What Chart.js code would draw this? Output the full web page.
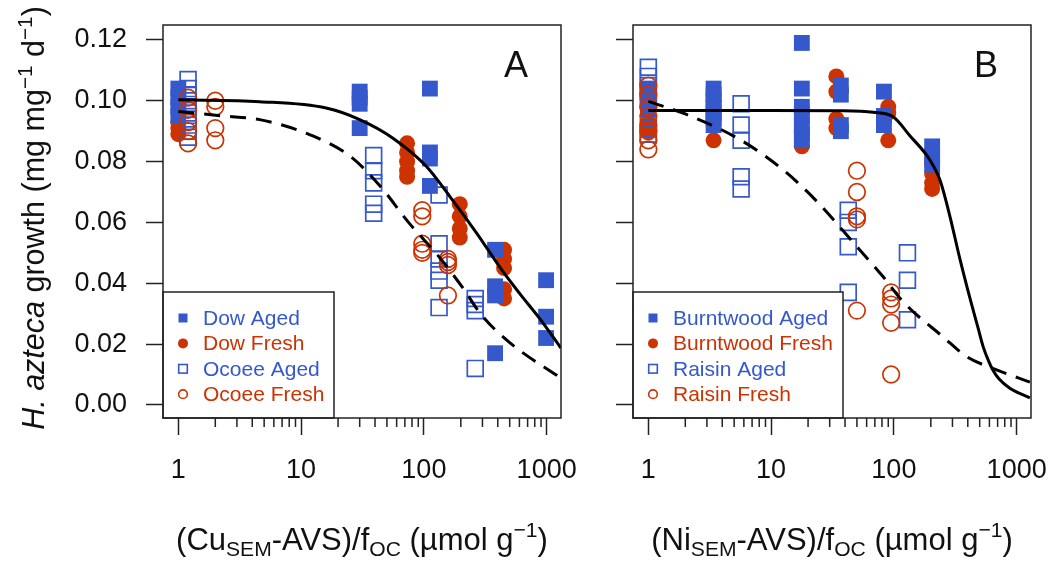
<!DOCTYPE html>
<html>
<head>
<meta charset="utf-8">
<script src="https://cdn.jsdelivr.net/npm/chart.js@4.4.1/dist/chart.umd.min.js"></script>
<style>
body { margin: 0; background: #fff; }
#wrap { position: relative; width: 1053px; height: 563px; overflow: hidden; font-family: "Liberation Sans", Arial, sans-serif; color: #111; }
canvas { position: absolute; top: 0; }
.xt { position: absolute; top: 522px; width: 560px; margin-left: -280px; text-align: center; font-size: 31px; line-height: 36px; white-space: nowrap; }
.yt { position: absolute; left: 33px; top: 218px; width: 580px; height: 36px; line-height: 36px; margin-left: -290px; margin-top: -18px; text-align: center; font-size: 30.5px; transform: rotate(-90deg); white-space: nowrap; }
sub { font-size: 0.68em; vertical-align: -0.3em; line-height: 0; }
sup { font-size: 0.68em; vertical-align: 0.6em; line-height: 0; }
</style>
</head>
<body>
<div id="wrap">
  <canvas id="chartA" width="590" height="563" style="left:0"></canvas>
  <canvas id="chartB" width="463" height="563" style="left:590px"></canvas>
  <div class="yt"><i>H. azteca</i> growth (mg mg<sup>−1</sup> d<sup>−1</sup>)</div>
  <div class="xt" style="left:362px">(Cu<sub>SEM</sub>-AVS)/f<sub>OC</sub> (µmol g<sup>−1</sup>)</div>
  <div class="xt" style="left:832px">(Ni<sub>SEM</sub>-AVS)/f<sub>OC</sub> (µmol g<sup>−1</sup>)</div>
</div>
<script>
const blue = '#3558CC';
const red = '#CC3300';

const yTicks = [0, 0.02, 0.04, 0.06, 0.08, 0.10, 0.12];
const xTicks = [1, 10, 100, 1000];

// panel A (Cu)
const dowAgedX = [1, 30, 112, 380, 990];
const dowAgedY = [[0.104, 0.101, 0.098, 0.095], [0.103, 0.101, 0.099, 0.091], [0.104, 0.083, 0.081, 0.072], [0.051, 0.039, 0.036, 0.017], [0.041, 0.029, 0.022]];
const dowFreshX = [1, 73, 196, 450];
const dowFreshY = [[0.093, 0.091, 0.089], [0.086, 0.083, 0.080, 0.077, 0.075], [0.066, 0.062, 0.058, 0.055], [0.051, 0.048, 0.045, 0.038, 0.035]];
const ocoeeAgedX = [1.2, 39, 133, 262];
const ocoeeAgedY = [[0.107, 0.104, 0.102, 0.100, 0.098, 0.096, 0.094, 0.092, 0.090, 0.088], [0.082, 0.077, 0.073, 0.066, 0.063], [0.069, 0.053, 0.048, 0.044, 0.041, 0.032], [0.035, 0.033, 0.031, 0.012]];
const ocoeeFreshX = [1.2, 2.0, 97, 157];
const ocoeeFreshY = [[0.101, 0.097, 0.093, 0.090, 0.086], [0.100, 0.098, 0.091, 0.087], [0.064, 0.062, 0.053, 0.051, 0.050], [0.048, 0.047, 0.046, 0.036]];
const fitAgedCuX = [1, 4.6, 16, 30, 56, 105, 163, 269, 443, 606, 882, 1307];
const fitAgedCuY = [0.1003, 0.0997, 0.0976, 0.0938, 0.0877, 0.0784, 0.0685, 0.0565, 0.0437, 0.0365, 0.0283, 0.0187];
const fitFreshCuX = [1, 2.32, 4.6, 11.8, 25.2, 44.3, 75, 131, 210, 289, 503, 1307];
const fitFreshCuY = [0.0965, 0.095, 0.0938, 0.0888, 0.0817, 0.0718, 0.060, 0.049, 0.0382, 0.030, 0.0204, 0.0088];

// panel B (Ni)
const burntAgedX = [1, 3.4, 17.8, 37, 83, 205];
const burntAgedY = [[0.104, 0.101, 0.099, 0.097], [0.104, 0.102, 0.100, 0.098, 0.096, 0.094, 0.092], [0.119, 0.104, 0.098, 0.095, 0.092, 0.089, 0.087], [0.105, 0.102, 0.092, 0.090], [0.103, 0.095, 0.092], [0.085, 0.082, 0.079]];
const burntFreshX = [1, 3.4, 17.8, 34, 90, 205];
const burntFreshY = [[0.100, 0.097, 0.093, 0.090], [0.095, 0.087], [0.098, 0.096, 0.090, 0.085], [0.108, 0.103, 0.094, 0.091], [0.098, 0.096, 0.087], [0.079, 0.076, 0.073, 0.071]];
const raisinAgedX = [1, 5.7, 42.5, 129];
const raisinAgedY = [[0.111, 0.108, 0.105, 0.103, 0.100, 0.091, 0.089], [0.099, 0.092, 0.087, 0.075, 0.071], [0.064, 0.060, 0.052, 0.037], [0.050, 0.041, 0.028]];
const raisinFreshX = [1, 50, 95];
const raisinFreshY = [[0.105, 0.102, 0.098, 0.095, 0.092, 0.090, 0.087, 0.084], [0.077, 0.070, 0.062, 0.061, 0.031], [0.037, 0.035, 0.033, 0.027, 0.010]];
const fitAgedNiX = [1, 2.6, 9.8, 36, 68, 98, 135, 196, 237, 286, 345, 417, 480, 535, 590, 640, 720, 880, 1282];
const fitAgedNiY = [0.0968, 0.0968, 0.0968, 0.0967, 0.0962, 0.0948, 0.0885, 0.0806, 0.074, 0.062, 0.048, 0.035, 0.026, 0.019, 0.0145, 0.0115, 0.0085, 0.0055, 0.0023];
const fitFreshNiX = [1, 2.07, 5.58, 12.5, 23.6, 50, 81.5, 119, 251, 394, 640, 1282];
const fitFreshNiY = [0.0998, 0.0954, 0.0872, 0.0773, 0.0669, 0.052, 0.0422, 0.0339, 0.0224, 0.0158, 0.012, 0.0075];

const legendA = ['Dow Aged', 'Dow Fresh', 'Ocoee Aged', 'Ocoee Fresh'];
const legendB = ['Burntwood Aged', 'Burntwood Fresh', 'Raisin Aged', 'Raisin Fresh'];

function pts(xs, ys) {
  return xs.flatMap((x, i) => ys[i].map(y => ({ x, y })));
}
function curve(xs, ys) {
  return xs.map((x, i) => ({ x, y: ys[i] }));
}

// marker looks: filled/open square, filled/open circle
function marker(label, data, color, kind, order) {
  const square = kind.includes('square');
  const open = kind.includes('open');
  return {
    label, data, order, kind, color,
    pointStyle: square ? 'rect' : 'circle',
    pointRadius: square ? 11.2 : (open ? 8.3 : 8),
    backgroundColor: open ? 'rgba(0,0,0,0)' : color,
    borderColor: color,
    borderWidth: open ? 1.7 : 0,
    showLine: false
  };
}
function fitLine(data, dashed) {
  return {
    data, type: 'line', order: 0,
    borderColor: '#000', borderWidth: 3,
    borderDash: dashed ? [16, 10] : [],
    pointRadius: 0, fill: false,
    cubicInterpolationMode: 'monotone'
  };
}

const boxPlugin = {
  id: 'boxPlugin',
  afterDraw(chart, args, opts) {
    const { ctx, chartArea: a } = chart;
    const xs = chart.scales.x;
    ctx.save();
    ctx.strokeStyle = '#222';
    ctx.lineWidth = 1.5;
    // minor log ticks
    ctx.beginPath();
    for (let d = 1; d < 1000; d *= 10) {
      for (let m = 2; m <= 9; m++) {
        const px = xs.getPixelForValue(d * m);
        ctx.moveTo(px, a.bottom);
        ctx.lineTo(px, a.bottom + 9);
      }
    }
    ctx.stroke();
    ctx.strokeRect(a.left, a.top, a.right - a.left, a.bottom - a.top);
    ctx.fillStyle = '#111';
    ctx.font = '36px "Liberation Sans", Arial, sans-serif';
    ctx.textAlign = 'center';
    ctx.textBaseline = 'middle';
    ctx.fillText(opts.letter, a.right - 45, a.top + 42);
    ctx.restore();
  }
};

const legendPlugin = {
  id: 'legendPlugin',
  afterDatasetsDraw(chart, args, opts) {
    const { ctx, chartArea: a } = chart;
    const x0 = a.left, y0 = a.bottom - 126;
    ctx.save();
    ctx.fillStyle = '#fff';
    ctx.fillRect(x0, y0, opts.width, a.bottom - y0);
    ctx.strokeStyle = '#222';
    ctx.lineWidth = 1.5;
    ctx.strokeRect(x0, y0, opts.width, a.bottom - y0);
    ctx.font = '21px "Liberation Sans", Arial, sans-serif';
    ctx.textBaseline = 'middle';
    opts.names.forEach((name, i) => {
      const ds = chart.data.datasets.find(d => d.label === name);
      const y = y0 + 26 + i * 25.4;
      const mx = x0 + 20;
      ctx.fillStyle = ds.color;
      ctx.strokeStyle = ds.color;
      ctx.lineWidth = 1.6;
      if (ds.kind === 'square') ctx.fillRect(mx - 4.5, y - 4.5, 9, 9);
      else if (ds.kind === 'open square') ctx.strokeRect(mx - 4.3, y - 4.3, 8.6, 8.6);
      else {
        ctx.beginPath();
        ctx.arc(mx, y, ds.kind === 'circle' ? 5 : 4.3, 0, Math.PI * 2);
        if (ds.kind === 'circle') ctx.fill(); else ctx.stroke();
      }
      ctx.fillStyle = ds.color;
      ctx.fillText(name, x0 + 40, y + 1);
    });
    ctx.restore();
  }
};

function noPad(s) {
  s.paddingTop = 0; s.paddingBottom = 0; s.paddingLeft = 0; s.paddingRight = 0;
}

function makeChart(id, datasets, cfg) {
  const gridOpts = { display: true, drawOnChartArea: false, drawTicks: true, tickLength: 17, tickColor: '#222', tickWidth: 1.5 };
  return new Chart(document.getElementById(id), {
    type: 'scatter',
    data: { datasets },
    options: {
      responsive: false,
      devicePixelRatio: 1,
      animation: false,
      layout: { padding: { top: 25, right: cfg.padRight, left: 0, bottom: 0 } },
      scales: {
        x: {
          type: 'logarithmic', min: 0.75, max: 1309,
          afterBuildTicks: s => { s.ticks = xTicks.map(v => ({ value: v })); },
          afterFit: s => { s.height = 145; noPad(s); },
          ticks: { callback: v => String(v), font: { size: 27 }, color: '#111', padding: 19, maxRotation: 0, autoSkip: false },
          grid: gridOpts,
          border: { display: false }
        },
        y: {
          min: -0.0043, max: 0.1249,
          afterBuildTicks: s => { s.ticks = yTicks.map(v => ({ value: v })); },
          afterFit: s => { s.width = cfg.yWidth; noPad(s); },
          ticks: { display: cfg.yLabels, callback: v => v.toFixed(2), font: { size: 27 }, color: '#111', padding: 19 },
          grid: gridOpts,
          border: { display: false }
        }
      },
      plugins: {
        legend: { display: false },
        tooltip: { enabled: false },
        boxPlugin: { letter: cfg.letter },
        legendPlugin: { names: cfg.legend, width: cfg.legendWidth }
      }
    },
    plugins: [boxPlugin, legendPlugin]
  });
}

Chart.defaults.font.family = '"Liberation Sans", Arial, sans-serif';

makeChart('chartA', [
  fitLine(curve(fitAgedCuX, fitAgedCuY), false),
  fitLine(curve(fitFreshCuX, fitFreshCuY), true),
  marker('Ocoee Fresh', pts(ocoeeFreshX, ocoeeFreshY), red, 'open circle', 2),
  marker('Ocoee Aged', pts(ocoeeAgedX, ocoeeAgedY), blue, 'open square', 3),
  marker('Dow Aged', pts(dowAgedX, dowAgedY), blue, 'square', 4),
  marker('Dow Fresh', pts(dowFreshX, dowFreshY), red, 'circle', 5)
], { padRight: 29, yWidth: 163, yLabels: true, letter: 'A', legend: legendA, legendWidth: 171 });

makeChart('chartB', [
  fitLine(curve(fitAgedNiX, fitAgedNiY), false),
  fitLine(curve(fitFreshNiX, fitFreshNiY), true),
  marker('Raisin Fresh', pts(raisinFreshX, raisinFreshY), red, 'open circle', 2),
  marker('Raisin Aged', pts(raisinAgedX, raisinAgedY), blue, 'open square', 3),
  marker('Burntwood Aged', pts(burntAgedX, burntAgedY), blue, 'square', 4),
  marker('Burntwood Fresh', pts(burntFreshX, burntFreshY), red, 'circle', 5)
], { padRight: 22, yWidth: 43, yLabels: false, letter: 'B', legend: legendB, legendWidth: 210 });
</script>
</body>
</html>
